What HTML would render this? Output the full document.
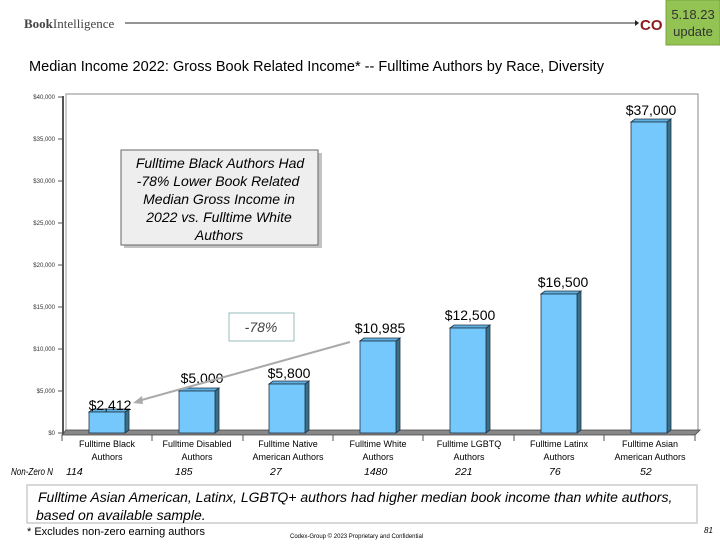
<!DOCTYPE html>
<html><head><style>
body{margin:0;width:720px;height:540px;background:#fff;overflow:hidden;font-family:"Liberation Sans",Arial,sans-serif;}
</style></head><body>
<svg width="720" height="540" xmlns="http://www.w3.org/2000/svg" font-family="Liberation Sans, Arial, sans-serif">
<text x="24" y="28" font-family="Liberation Serif, serif" font-size="13" fill="#444"><tspan font-weight="bold">Book</tspan>Intelligence</text>
<line x1="125" y1="23" x2="635" y2="23" stroke="#555" stroke-width="1.3"/>
<polygon points="635,20 639,23 635,26" fill="#222"/>
<text x="640" y="30" font-size="15" font-weight="bold" fill="#8b1a1a">CO</text>
<rect x="666" y="0" width="54" height="45" fill="#92c353" stroke="#7aa33f"/>
<text x="693" y="19" font-size="13" fill="#333" text-anchor="middle">5.18.23</text>
<text x="693" y="36" font-size="13" fill="#333" text-anchor="middle">update</text>
<text x="29" y="71" font-size="14.5" fill="#000" textLength="575" lengthAdjust="spacingAndGlyphs">Median Income 2022: Gross Book Related Income* -- Fulltime Authors by Race, Diversity</text>
<rect x="66" y="94" width="632" height="338" fill="#fff" stroke="#888" stroke-width="1"/>
<line x1="63" y1="96" x2="63" y2="435" stroke="#555" stroke-width="2"/>
<line x1="66" y1="94" x2="66" y2="432" stroke="#999"/>
<polygon points="62,435 695,435 700,430 66,430" fill="#888" stroke="#444" stroke-width="0.8"/>
<g font-size="6" fill="#333" text-anchor="end">
<text x="55" y="99">$40,000</text><text x="55" y="141">$35,000</text><text x="55" y="183">$30,000</text><text x="55" y="225">$25,000</text><text x="55" y="267">$20,000</text><text x="55" y="309">$15,000</text><text x="55" y="351">$10,000</text><text x="55" y="393">$5,000</text><text x="55" y="435">$0</text>
</g>
<g stroke="#555">
<line x1="58" y1="97" x2="63" y2="97"/><line x1="58" y1="139" x2="63" y2="139"/><line x1="58" y1="181" x2="63" y2="181"/><line x1="58" y1="223" x2="63" y2="223"/><line x1="58" y1="265" x2="63" y2="265"/><line x1="58" y1="307" x2="63" y2="307"/><line x1="58" y1="349" x2="63" y2="349"/><line x1="58" y1="391" x2="63" y2="391"/><line x1="58" y1="433" x2="63" y2="433"/>
<line x1="62" y1="435" x2="62" y2="441"/><line x1="152" y1="435" x2="152" y2="441"/><line x1="243" y1="435" x2="243" y2="441"/><line x1="333" y1="435" x2="333" y2="441"/><line x1="423" y1="435" x2="423" y2="441"/><line x1="514" y1="435" x2="514" y2="441"/><line x1="604" y1="435" x2="604" y2="441"/><line x1="695" y1="435" x2="695" y2="441"/>
</g>
<g stroke="#234" stroke-width="0.8">
<polygon points="125,412 129,409 129,430 125,433" fill="#3a6f88"/><polygon points="89,412 93,409 129,409 125,412" fill="#5fb0e0"/><rect x="89" y="412" width="36" height="21" fill="#74c8fc"/>
<polygon points="215,391 219,388 219,430 215,433" fill="#3a6f88"/><polygon points="179,391 183,388 219,388 215,391" fill="#5fb0e0"/><rect x="179" y="391" width="36" height="42" fill="#74c8fc"/>
<polygon points="305,384 309,381 309,430 305,433" fill="#3a6f88"/><polygon points="269,384 273,381 309,381 305,384" fill="#5fb0e0"/><rect x="269" y="384" width="36" height="49" fill="#74c8fc"/>
<polygon points="396,341 400,338 400,430 396,433" fill="#3a6f88"/><polygon points="360,341 364,338 400,338 396,341" fill="#5fb0e0"/><rect x="360" y="341" width="36" height="92" fill="#74c8fc"/>
<polygon points="486,328 490,325 490,430 486,433" fill="#3a6f88"/><polygon points="450,328 454,325 490,325 486,328" fill="#5fb0e0"/><rect x="450" y="328" width="36" height="105" fill="#74c8fc"/>
<polygon points="577,294 581,291 581,430 577,433" fill="#3a6f88"/><polygon points="541,294 545,291 581,291 577,294" fill="#5fb0e0"/><rect x="541" y="294" width="36" height="139" fill="#74c8fc"/>
<polygon points="667,122 671,119 671,430 667,433" fill="#3a6f88"/><polygon points="631,122 635,119 671,119 667,122" fill="#5fb0e0"/><rect x="631" y="122" width="36" height="311" fill="#74c8fc"/>
</g>
<g font-size="14" fill="#000" text-anchor="middle">
<text x="110" y="410">$2,412</text><text x="202" y="383">$5,000</text><text x="289" y="378">$5,800</text><text x="380" y="333">$10,985</text><text x="470" y="320">$12,500</text><text x="563" y="287">$16,500</text><text x="651" y="115">$37,000</text>
</g>
<line x1="350" y1="342" x2="138" y2="401" stroke="#aaa" stroke-width="2"/>
<polygon points="133,403 142,396 143,404" fill="#aaa"/>
<rect x="229" y="313" width="65" height="28" fill="#fff" stroke="#9bb"/>
<text x="261" y="332" font-size="14" font-style="italic" fill="#444" text-anchor="middle">-78%</text>
<rect x="124" y="153" width="198" height="95" fill="#999" opacity="0.6"/>
<rect x="121" y="150" width="197" height="95" fill="#eee" stroke="#666"/>
<g font-size="14" font-style="italic" fill="#000" text-anchor="middle">
<text x="220" y="168">Fulltime Black Authors Had</text><text x="218" y="186">-78% Lower Book Related</text><text x="219" y="204">Median Gross Income in</text><text x="219" y="222">2022 vs. Fulltime White</text><text x="219" y="240">Authors</text>
</g>
<g font-size="9" fill="#000" text-anchor="middle">
<text x="107" y="447">Fulltime Black</text><text x="107" y="460">Authors</text>
<text x="197" y="447">Fulltime Disabled</text><text x="197" y="460">Authors</text>
<text x="288" y="447">Fulltime Native</text><text x="288" y="460">American Authors</text>
<text x="378" y="447">Fulltime White</text><text x="378" y="460">Authors</text>
<text x="469" y="447">Fulltime LGBTQ</text><text x="469" y="460">Authors</text>
<text x="559" y="447">Fulltime Latinx</text><text x="559" y="460">Authors</text>
<text x="650" y="447">Fulltime Asian</text><text x="650" y="460">American Authors</text>
</g>
<g font-size="10.5" font-style="italic" fill="#000">
<text x="11" y="475" textLength="42" lengthAdjust="spacingAndGlyphs">Non-Zero N</text>
<text x="66" y="475">114</text><text x="175" y="475">185</text><text x="270" y="475">27</text><text x="364" y="475">1480</text><text x="455" y="475">221</text><text x="549" y="475">76</text><text x="640" y="475">52</text>
</g>
<rect x="27" y="485" width="670" height="38" fill="#fff" stroke="#ccc" stroke-width="1.5"/>
<g font-size="14" font-style="italic" fill="#000">
<text x="38" y="502">Fulltime Asian American, Latinx, LGBTQ+ authors had higher median book income than white authors,</text>
<text x="36" y="520">based on available sample.</text>
</g>
<text x="27" y="535" font-size="11" fill="#000">* Excludes non-zero earning authors</text>
<text x="290" y="538" font-size="6" fill="#000">Codex-Group © 2023 Proprietary and Confidential</text>
<text x="704" y="533" font-size="8" font-style="italic" fill="#000">81</text>
</svg>
</body></html>
